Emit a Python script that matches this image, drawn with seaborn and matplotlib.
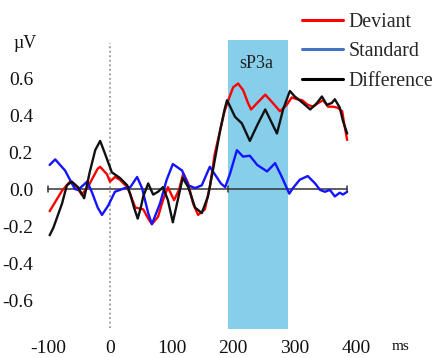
import matplotlib
matplotlib.use("Agg")
import matplotlib.pyplot as plt
from matplotlib.lines import Line2D
import seaborn as sns
import pandas as pd

# ---- data (ms, µV) ----
dev_t = [-98, -78, -65, -54, -46, -36, -20, -16, -5, 0, 8, 16, 28, 33, 41, 54, 62, 68, 78, 86,
         94, 101, 104, 112, 119, 127, 135, 143, 154, 162, 167, 170, 179, 186, 192, 200, 208, 216,
         224, 229, 239, 252, 263, 276, 287, 295, 304, 312, 321, 330, 338, 346, 354, 362, 369, 377,
         380, 385]
dev_v = [-0.12, -0.01, 0.04, 0.01, -0.03, 0.01, 0.11, 0.12, 0.08, 0.04, 0.065, 0.05, 0.01, -0.03,
         -0.10, -0.11, -0.16, -0.19, -0.15, -0.06, 0.01, -0.04, -0.06, -0.005, 0.085, 0.03, -0.08,
         -0.14, -0.11, 0.01, 0.12, 0.19, 0.32, 0.42, 0.48, 0.55, 0.57, 0.535, 0.465, 0.43, 0.465,
         0.51, 0.47, 0.42, 0.455, 0.495, 0.485, 0.48, 0.455, 0.445, 0.465, 0.48, 0.445, 0.445,
         0.44, 0.42, 0.355, 0.265]

std_t = [-98, -89, -73, -57, -52, -37, -29, -20, -13, -3, 8, 24, 33, 44, 52, 62, 68, 81, 92, 102,
         117, 127, 138, 149, 162, 174, 180, 187, 195, 206, 216, 227, 239, 255, 268, 279, 287, 291,
         297, 308, 321, 333, 341, 349, 357, 365, 373, 378, 385]
std_v = [0.13, 0.16, 0.10, 0.0, -0.005, 0.04, -0.02, -0.10, -0.14, -0.09, -0.015, 0.005, 0.01,
         0.065, 0.005, -0.13, -0.19, -0.08, 0.05, 0.135, 0.10, 0.02, 0.005, 0.02, 0.12, 0.06, 0.03,
         0.01, 0.085, 0.21, 0.175, 0.18, 0.13, 0.095, 0.14, 0.065, 0.005, -0.025, 0.005, 0.05, 0.07,
         0.03, -0.005, -0.015, -0.005, -0.04, -0.02, -0.03, -0.015]

dif_t = [-98, -92, -78, -70, -62, -52, -42, -33, -24, -16, -8, 3, 16, 28, 33, 39, 45, 50, 54, 62,
         70, 78, 86, 94, 102, 110, 118, 127, 138, 149, 159, 167, 179, 186, 190, 203, 214, 227, 239,
         252, 263, 271, 281, 292, 300, 313, 325, 336, 344, 352, 360, 365, 373, 378, 385]
dif_v = [-0.25, -0.21, -0.08, 0.02, 0.04, 0.01, -0.05, 0.09, 0.21, 0.26, 0.19, 0.09, 0.06, 0.02,
         -0.03, -0.10, -0.16, -0.10, -0.04, 0.03, -0.03, -0.015, 0.01, -0.06, -0.18, -0.06, 0.06,
         0.01, -0.10, -0.13, -0.04, 0.10, 0.32, 0.43, 0.48, 0.39, 0.355, 0.26, 0.345, 0.43, 0.355,
         0.30, 0.43, 0.53, 0.50, 0.465, 0.43, 0.465, 0.50, 0.455, 0.465, 0.485, 0.44, 0.37, 0.30]

series_names = ["Deviant", "Standard", "Difference"]
line_colors = ["#ff0000", "#1414ff", "#111111"]
legend_colors = ["#ff0000", "#4472c4", "#000000"]

window = (192, 289)          # sP3a window (ms)
window_label = "sP3a"
epoch = (-100, 385)
y_ticks = [-0.6, -0.4, -0.2, 0.0, 0.2, 0.4, 0.6]
x_ticks = [-100, 0, 100, 200, 300, 400]

# ---- styling ----
sns.set_theme(style="white")
plt.rcParams["font.family"] = ["Liberation Serif", "DejaVu Serif"]
plt.rcParams["axes.unicode_minus"] = False

W, H = 440, 358
fig = plt.figure(figsize=(W / 100, H / 100), dpi=100)
ax = fig.add_axes([40 / W, 18 / H, 360 / W, 310 / H])
ax.set_xlim(-113.64, 470.78)
ax.set_ylim(-0.8162, 0.8595)

# window shading
ax.fill_between(list(window), -0.757, 0.805, color="#87ceeb", lw=0, zorder=0)
ax.text(sum(window) / 2 - 3, 0.68, window_label, ha="center", va="center", fontsize=13, color="#222222")

# stimulus onset
ax.plot([0, 0], [-0.75, 0.79], color="#999999", ls=(0, (1, 1.5)), lw=1.3, zorder=1)

# zero line with tick marks
ax.plot(list(epoch), [0, 0], color="#333333", lw=1.1, zorder=2)
for tx in (epoch[0], window[0], epoch[1]):
    ax.plot([tx, tx], [-0.018, 0.018], color="#333333", lw=1.1, zorder=2)

frames = [pd.DataFrame({"t": dev_t, "v": dev_v}),
          pd.DataFrame({"t": std_t, "v": std_v}),
          pd.DataFrame({"t": dif_t, "v": dif_v})]
for idx in (1, 0, 2):
    sns.lineplot(data=frames[idx], x="t", y="v", ax=ax, color=line_colors[idx], lw=1.7,
                 zorder=3 + idx, legend=False, solid_joinstyle="round", solid_capstyle="round")

for s in ax.spines.values():
    s.set_visible(False)
ax.set_xlabel("")
ax.set_ylabel("")
ax.set_yticks(y_ticks)
ax.set_yticklabels([f"{v:.1f}" for v in y_ticks])
ax.set_xticks(x_ticks)
ax.set_xticklabels([str(v) for v in x_ticks])
ax.tick_params(axis="both", length=0, labelsize=14, colors="#111111")
ax.tick_params(axis="y", pad=5)
ax.tick_params(axis="x", pad=0)

fig.text(25 / W, 1 - 44 / H, "µV", ha="center", va="center", fontsize=13, color="#111111")
fig.text(392 / W, 1 - 346 / H, "ms", ha="left", va="center", fontsize=11, color="#111111")

handles = [Line2D([0], [0], color=c, lw=2.2) for c in legend_colors]
fig.legend(handles, series_names, loc="upper left", bbox_to_anchor=(288 / W, 1 + 1 / H),
           frameon=False, fontsize=14.3, handlelength=2.05, handletextpad=0.3, labelspacing=0.52,
           borderpad=0.2)

fig.savefig("out.png", dpi=100)
